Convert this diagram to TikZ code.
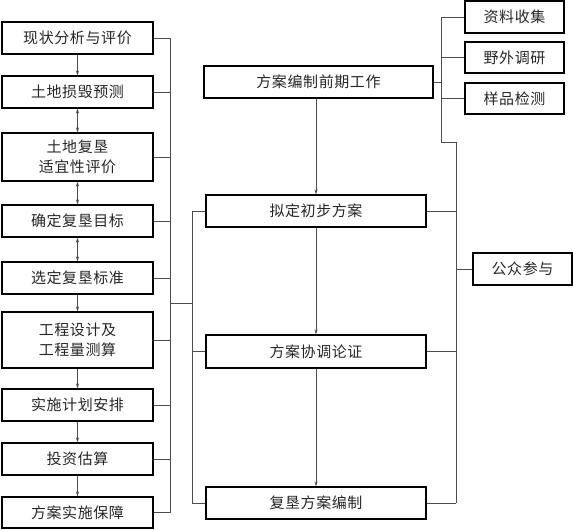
\documentclass[tikz,border=0pt]{standalone}
\usepackage{fontspec}
\setmainfont{Noto Sans CJK SC}[LetterSpace=4]
\usetikzlibrary{arrows.meta}
\begin{document}
\begin{tikzpicture}[x=1pt,y=-1pt,
  box/.style={draw=black, line width=1.1pt, inner sep=0pt, align=center,
    font=\fontsize{15}{20}\selectfont, text=black!85},
  lbox/.style={box, minimum width=151pt},
  mbox/.style={box, minimum width=220pt, minimum height=32pt},
  rbox/.style={box, minimum width=99pt},
  conn/.style={draw=black!70, line width=0.6pt},
  arr/.style={conn, -{Stealth[length=5pt,width=3pt]}},
  darr/.style={conn, {Stealth[length=5pt,width=3pt]}-{Stealth[length=5pt,width=3pt]}}]
\useasboundingbox (0,0) rectangle (573,530);
% left column
\node[lbox, minimum height=32pt] (b1) at (77.5,38) {现状分析与评价};
\node[lbox, minimum height=32pt] (b2) at (77.5,92) {土地损毁预测};
\node[lbox, minimum height=48pt] (b3) at (77.5,157) {土地复垦\\适宜性评价};
\node[lbox, minimum height=32pt] (b4) at (77.5,221) {确定复垦目标};
\node[lbox, minimum height=32pt] (b5) at (77.5,278) {选定复垦标准};
\node[lbox, minimum height=56pt] (b6) at (77.5,340) {工程设计及\\工程量测算};
\node[lbox, minimum height=32pt] (b7) at (77.5,405) {实施计划安排};
\node[lbox, minimum height=32pt] (b8) at (77.5,459) {投资估算};
\node[lbox, minimum height=31pt] (b9) at (77.5,512.5) {方案实施保障};
% middle column
\node[mbox, minimum width=229pt] (m1) at (318.5,82) {方案编制前期工作};
\node[mbox] (m2) at (316,211) {拟定初步方案};
\node[mbox, minimum height=33pt] (m3) at (316,351.5) {方案协调论证};
\node[mbox] (m4) at (316,503) {复垦方案编制};
% right column
\node[rbox, minimum height=32pt] (r1) at (514.5,17) {资料收集};
\node[rbox, minimum height=31pt] (r2) at (514.5,57.5) {野外调研};
\node[rbox, minimum height=31pt] (r3) at (514.5,98.5) {样品检测};
\node[rbox, minimum height=32pt] (p) at (522.5,269) {公众参与};
% bus coordinates
\coordinate (busL) at (170,0);
\coordinate (busM) at (192,0);
\coordinate (busR) at (441,0);
\coordinate (busP) at (456,0);
\coordinate (jL) at (170,303);
\coordinate (jR) at (441,142);
% left arrows
\draw[arr] (b1.south) -- (b2.north);
\draw[darr] (b2.south) -- (b3.north);
\draw[darr] (b3.south) -- (b4.north);
\draw[darr] (b4.south) -- (b5.north);
\draw[arr] (b5.south) -- (b6.north);
\draw[arr] (b6.south) -- (b7.north);
\draw[arr] (b7.south) -- (b8.north);
\draw[arr] (b8.south) -- (b9.north);
% left bus
\foreach \n in {b1,b2,b3,b4,b5,b6,b7,b8,b9}
  \draw[conn] (\n.east) -- (\n.east -| busL);
\draw[conn] (b1.east -| busL) -- (b9.east -| busL);
\draw[conn] (jL) -- (jL -| busM);
\draw[conn] (m2.west -| busM) -- (m4.west -| busM);
\foreach \n in {m2,m3,m4}
  \draw[conn] (\n.west -| busM) -- (\n.west);
% middle arrows
\draw[arr] (m2.north |- m1.south) -- (m2.north);
\draw[arr] (m2.south) -- (m3.north);
\draw[arr] (m3.south) -- (m4.north);
% right bus
\draw[conn] (r1.west -| busR) -- (jR) -- (jR -| busP) -- (m4.east -| busP);
\draw[conn] (m1.east) -- (m1.east -| busR);
\foreach \n in {r1,r2,r3}
  \draw[conn] (\n.west -| busR) -- (\n.west);
\foreach \n in {m2,m3,m4}
  \draw[conn] (\n.east) -- (\n.east -| busP);
\draw[conn] (p.west -| busP) -- (p.west);
\end{tikzpicture}
\end{document}
